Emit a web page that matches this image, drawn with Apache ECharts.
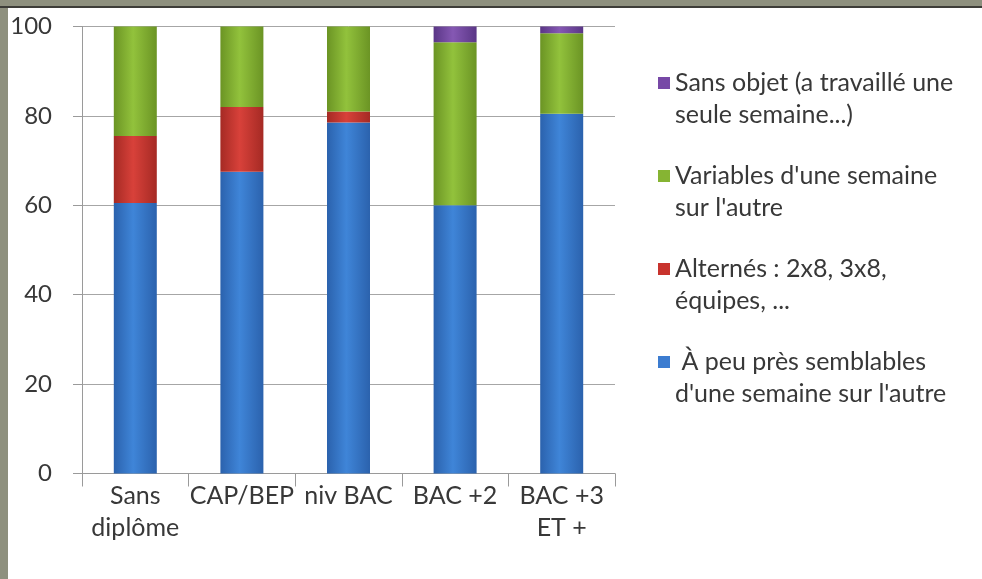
<!DOCTYPE html>
<html>
<head>
<meta charset="utf-8">
<script src="https://cdn.jsdelivr.net/npm/echarts@6/dist/echarts.min.js"></script>
<style>
html,body{margin:0;padding:0;background:#fff;}
#c{width:982px;height:579px;}
</style>
</head>
<body>
<div id="c"></div>
<script>
const categories = ['Sans\ndiplôme', 'CAP/BEP', 'niv BAC', 'BAC +2', 'BAC +3\nET +'];
const yTicks = [0, 20, 40, 60, 80, 100];
const seriesNames = [
  " À peu près semblables d'une semaine sur l'autre",
  'Alternés : 2x8, 3x8, équipes, ...',
  "Variables d'une semaine sur l'autre",
  'Sans objet (a travaillé une seule semaine...)'
];
const legendLines = {
  " À peu près semblables d'une semaine sur l'autre": " À peu près semblables\nd'une semaine sur l'autre",
  'Alternés : 2x8, 3x8, équipes, ...': 'Alternés : 2x8, 3x8,\néquipes, ...',
  "Variables d'une semaine sur l'autre": "Variables d'une semaine\nsur l'autre",
  'Sans objet (a travaillé une seule semaine...)': 'Sans objet (a travaillé une\nseule semaine...)'
};
const semblables = [60.5, 67.5, 78.5, 60, 80.5];
const alternes = [15, 14.5, 2.5, 0, 0];
const variables = [24.5, 18, 19, 36.5, 18];
const sansObjet = [0, 0, 0, 3.5, 1.5];

const FONT = 'Lato';
const TXT = '#383838';

function grad(edge, mid) {
  return new echarts.graphic.LinearGradient(0, 0, 1, 0, [
    {offset: 0, color: edge},
    {offset: 0.45, color: mid},
    {offset: 1, color: edge}
  ]);
}
const colors = [
  grad('#2b62ad', '#3f85d8'),
  grad('#a52a24', '#d8413a'),
  grad('#6b9424', '#92c23c'),
  grad('#5a3686', '#8558b3')
];
const legendColors = ['#3c7cd0', '#c8332d', '#86b433', '#7748a6'];
const dataArr = [semblables, alternes, variables, sansObjet];

const chart = echarts.init(document.getElementById('c'), null, {renderer: 'canvas'});
chart.setOption({
  animation: false,
  backgroundColor: '#ffffff',
  textStyle: {fontFamily: FONT},
  graphic: [
    {type: 'rect', left: 0, top: 0, shape: {width: 8, height: 579}, style: {fill: '#8e907e'}, z: 100},
    {type: 'rect', left: 0, top: 0, shape: {width: 982, height: 6}, style: {fill: '#8e907e'}, z: 100},
    {type: 'rect', left: 0, top: 6, shape: {width: 982, height: 2}, style: {fill: '#3d3d38'}, z: 100}
  ],
  grid: {left: 82, right: 367, top: 26.5, bottom: 105.5, containLabel: false},
  legend: {
    orient: 'vertical',
    left: 658,
    top: 35,
    padding: 0,
    itemGap: -3,
    itemWidth: 12,
    itemHeight: 12,
    icon: 'rect',
    data: seriesNames.slice().reverse().map((n, i) => ({name: n, itemStyle: {color: legendColors[3 - i]}})),
    formatter: n => '\n' + legendLines[n],
    textStyle: {fontFamily: FONT, fontSize: 25, color: TXT, lineHeight: 32}
  },
  xAxis: {
    type: 'category',
    data: categories,
    axisLine: {show: true, lineStyle: {color: '#9a9a9a', width: 1}},
    axisTick: {show: true, length: 13, lineStyle: {color: '#9a9a9a'}},
    axisLabel: {fontFamily: FONT, fontSize: 25, color: TXT, lineHeight: 32, margin: 6, interval: 0}
  },
  yAxis: {
    type: 'value',
    min: 0, max: 100, interval: 20,
    axisLine: {show: true, lineStyle: {color: '#9a9a9a', width: 1}},
    axisTick: {show: true, length: 9, lineStyle: {color: '#9a9a9a'}},
    splitLine: {show: true, lineStyle: {color: '#a6a6a6', width: 1}},
    axisLabel: {fontFamily: FONT, fontSize: 24, color: TXT, margin: 30,
      formatter: v => yTicks.includes(v) ? String(v) : ''}
  },
  series: seriesNames.map((n, i) => ({
    name: n,
    type: 'bar',
    stack: 'total',
    barWidth: 43,
    data: dataArr[i],
    itemStyle: {color: colors[i]},
    emphasis: {disabled: true}
  }))
});
</script>
</body>
</html>
